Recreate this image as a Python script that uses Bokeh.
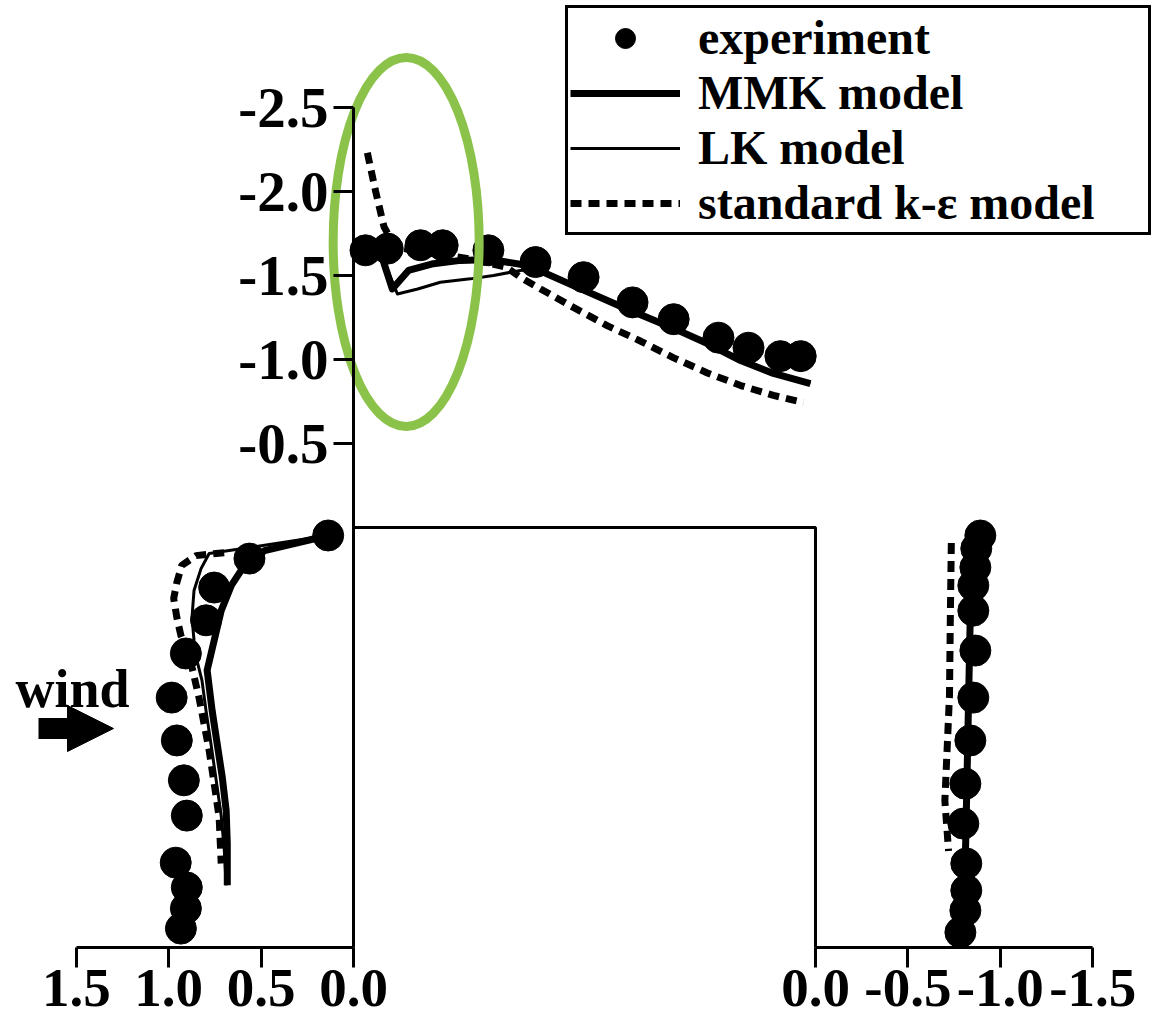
from bokeh.plotting import figure
from bokeh.models import (Range1d, LinearAxis, FixedTicker, NumeralTickFormatter,
                          Legend, LegendItem, Label, Arrow, NormalHead)
from bokeh.embed import file_html
from bokeh.resources import INLINE

# ---------------- data: pressure coefficient Cp around a cube ----------------
# Roof: s = position along roof (0 = windward edge, 1 = leeward edge)
roof_exp_s  = [0.026, 0.074, 0.145, 0.193, 0.292, 0.394, 0.498, 0.604, 0.693, 0.790, 0.855, 0.924, 0.968]
roof_exp_cp = [-1.65, -1.66, -1.68, -1.68, -1.65, -1.58, -1.49, -1.34, -1.24, -1.13, -1.07, -1.02, -1.02]

roof_mmk_s  = [0.0, 0.058, 0.084, 0.119, 0.173, 0.232, 0.297, 0.377, 0.476, 0.584, 0.693, 0.766, 0.838, 0.909, 0.989]
roof_mmk_cp = [-1.65, -1.64, -1.42, -1.53, -1.57, -1.59, -1.595, -1.56, -1.44, -1.31, -1.185, -1.095, -0.994, -0.917, -0.857]

roof_lk_s  = [0.0, 0.058, 0.095, 0.139, 0.188, 0.253, 0.303, 0.361, 0.40, 0.476, 0.584, 0.693, 0.766, 0.838, 0.909, 0.989]
roof_lk_cp = [-1.65, -1.64, -1.39, -1.42, -1.46, -1.48, -1.50, -1.53, -1.54, -1.44, -1.31, -1.185, -1.095, -0.994, -0.917, -0.857]

roof_ke_s  = [0.030, 0.048, 0.066, 0.09, 0.15, 0.25, 0.33, 0.361, 0.405, 0.476, 0.550, 0.621, 0.693, 0.766, 0.838, 0.909, 0.974]
roof_ke_cp = [-2.23, -2.00, -1.79, -1.67, -1.64, -1.60, -1.55, -1.49, -1.42, -1.31, -1.20, -1.11, -1.01, -0.92, -0.845, -0.786, -0.744]

# Windward face: h = height (0 = ground, 1 = roof)
wind_exp_h  = [0.981, 0.926, 0.857, 0.779, 0.700, 0.595, 0.493, 0.398, 0.314, 0.202, 0.143, 0.093, 0.045]
wind_exp_cp = [0.137, 0.563, 0.754, 0.798, 0.907, 0.984, 0.956, 0.918, 0.902, 0.962, 0.902, 0.907, 0.934]

wind_mmk_h  = [0.981, 0.945, 0.910, 0.862, 0.802, 0.731, 0.660, 0.564, 0.486, 0.405, 0.326, 0.248, 0.148]
wind_mmk_cp = [0.137, 0.481, 0.590, 0.661, 0.716, 0.754, 0.792, 0.765, 0.738, 0.710, 0.689, 0.683, 0.683]

wind_lk_h  = [0.981, 0.955, 0.938, 0.902, 0.850, 0.786, 0.731, 0.683, 0.636, 0.564, 0.481, 0.398, 0.314, 0.231, 0.148]
wind_lk_cp = [0.137, 0.525, 0.781, 0.825, 0.863, 0.874, 0.863, 0.847, 0.820, 0.798, 0.770, 0.743, 0.716, 0.699, 0.689]

wind_ke_h  = [0.940, 0.933, 0.910, 0.869, 0.831, 0.786, 0.743, 0.724, 0.667, 0.595, 0.533, 0.469, 0.390, 0.310, 0.200]
wind_ke_cp = [0.700, 0.852, 0.929, 0.956, 0.973, 0.956, 0.934, 0.918, 0.874, 0.836, 0.809, 0.781, 0.754, 0.727, 0.716]

# Leeward face
lee_exp_h  = [0.981, 0.950, 0.905, 0.862, 0.802, 0.707, 0.595, 0.493, 0.390, 0.295, 0.200, 0.136, 0.088, 0.036]
lee_exp_cp = [-0.892, -0.870, -0.865, -0.854, -0.854, -0.865, -0.854, -0.838, -0.811, -0.800, -0.816, -0.816, -0.811, -0.784]

lee_mmk_h  = [0.975, 0.80, 0.56, 0.32, 0.09]
lee_mmk_cp = [-0.845, -0.838, -0.827, -0.816, -0.805]

lee_lk_h  = [0.975, 0.80, 0.56, 0.32, 0.09]
lee_lk_cp = [-0.84, -0.835, -0.825, -0.815, -0.805]

lee_ke_h  = [0.963, 0.80, 0.60, 0.45, 0.35, 0.23]
lee_ke_cp = [-0.735, -0.730, -0.725, -0.710, -0.700, -0.720]

# tick values
roof_ticks = [-2.5, -2.0, -1.5, -1.0, -0.5]
wind_ticks = [1.5, 1.0, 0.5, 0.0]
lee_ticks = [0.0, -0.5, -1.0, -1.5]

# building outline (geometry units)
bld_x = [0, 0, 1, 1]
bld_y = [0, 1, 1, 0]

# ---------------- geometry mapping ----------------
K = 0.4  # building lengths per unit of Cp

def roof_xy(s, cp):
    return list(s), [1 - K * c for c in cp]

def wind_xy(h, cp):
    return [-K * c for c in cp], list(h)

def lee_xy(h, cp):
    return [1 - K * c for c in cp], list(h)

W, H = 1156, 1019
PXU, PYU = 462.0, 420.0       # pixels per building unit
OX, OY = 353.0, 947.0         # page position of windward ground corner
x0 = (0 - OX) / PXU
x1 = x0 + W / PXU
y1 = (OY - 0) / PYU
y0 = y1 - H / PYU

p = figure(width=W, height=H, x_range=Range1d(x0, x1), y_range=Range1d(y0, y1),
           output_backend="svg", toolbar_location=None, min_border=0,
           x_axis_location=None, y_axis_location=None, outline_line_color=None)
p.grid.visible = False

p.extra_x_ranges = {
    "cpw": Range1d(start=-x0 / K, end=-x1 / K),
    "cpl": Range1d(start=(1 - x0) / K, end=(1 - x1) / K),
}
p.extra_y_ranges = {"cpr": Range1d(start=(1 - y0) / K, end=(1 - y1) / K)}

FONT = "Liberation Serif"

def style_axis(ax, size="52px", standoff=2):
    ax.axis_line_width = 3
    ax.axis_line_color = "black"
    ax.major_tick_line_width = 3
    ax.major_tick_line_color = "black"
    ax.major_tick_in = 0
    ax.major_tick_out = 20
    ax.minor_tick_line_color = None
    ax.major_label_text_font = FONT
    ax.major_label_text_font_style = "bold"
    ax.major_label_text_font_size = size
    ax.major_label_text_color = "black"
    ax.major_label_standoff = standoff
    ax.formatter = NumeralTickFormatter(format="0.0")

ax_r = LinearAxis(y_range_name="cpr", fixed_location=0, bounds=(-2.5, 0),
                  ticker=FixedTicker(ticks=roof_ticks))
style_axis(ax_r, "57px", 5)
p.add_layout(ax_r, "left")

ax_w = LinearAxis(x_range_name="cpw", fixed_location=0, bounds=(0, 1.5),
                  ticker=FixedTicker(ticks=wind_ticks))
style_axis(ax_w, "55px", 2)
p.add_layout(ax_w, "below")

ax_l = LinearAxis(x_range_name="cpl", fixed_location=0, bounds=(-1.5, 0),
                  ticker=FixedTicker(ticks=lee_ticks))
style_axis(ax_l, "55px", 2)
p.add_layout(ax_l, "below")

# building
p.line(bld_x, bld_y, line_color="black", line_width=3)

DASH = "11 7"
MMK_W, LK_W, KE_W = 7, 3, 7

def draw_face(xy_fn, exp, mmk, lk, ke):
    rs = {}
    x, y = xy_fn(*ke)
    rs["ke"] = p.line(x, y, line_color="black", line_width=KE_W, line_dash=DASH, line_cap="butt")
    x, y = xy_fn(*lk)
    rs["lk"] = p.line(x, y, line_color="black", line_width=LK_W, line_join="round")
    x, y = xy_fn(*mmk)
    rs["mmk"] = p.line(x, y, line_color="black", line_width=MMK_W, line_join="round")
    x, y = xy_fn(*exp)
    rs["exp"] = p.scatter(x, y, marker="circle", size=31, fill_color="black", line_color="black")
    return rs

r_roof = draw_face(roof_xy, (roof_exp_s, roof_exp_cp), (roof_mmk_s, roof_mmk_cp),
                   (roof_lk_s, roof_lk_cp), (roof_ke_s, roof_ke_cp))
r_wind = draw_face(wind_xy, (wind_exp_h, wind_exp_cp), (wind_mmk_h, wind_mmk_cp),
                   (wind_lk_h, wind_lk_cp), (wind_ke_h, wind_ke_cp))
r_lee = draw_face(lee_xy, (lee_exp_h, lee_exp_cp), (lee_mmk_h, lee_mmk_cp),
                  (lee_lk_h, lee_lk_cp), (lee_ke_h, lee_ke_cp))

# wind label and arrow
p.add_layout(Label(x=(15 - OX) / PXU, y=(OY - 688) / PYU, text="wind",
                   text_font=FONT, text_font_style="bold", text_font_size="54px",
                   text_baseline="alphabetic", text_align="left", text_color="black"))
p.add_layout(Arrow(x_start=(38 - OX) / PXU, y_start=(OY - 728) / PYU,
                   x_end=(113 - OX) / PXU, y_end=(OY - 728) / PYU,
                   line_width=21, line_color="black", start=None,
                   end=NormalHead(size=46, fill_color="black", line_color="black", line_width=1)))

# highlight ellipse (roof leading-edge region)
ell_s, ell_cp = 0.114, -1.70
p.ellipse(x=[ell_s], y=[1 - K * ell_cp], width=146 / PXU, height=369 / PYU,
          fill_color=None, line_color="#8BC34A", line_width=9)

legend = Legend(items=[
    LegendItem(label="experiment", renderers=[r_roof["exp"]]),
    LegendItem(label="MMK model", renderers=[r_roof["mmk"]]),
    LegendItem(label="LK model", renderers=[r_roof["lk"]]),
    LegendItem(label="standard k-\u03b5 model", renderers=[r_roof["ke"]]),
], location="top_right")
legend.margin = 5
legend.padding = 2
legend.spacing = 0
legend.glyph_width = 110
legend.glyph_height = 50
legend.label_height = 50
legend.label_width = 448
legend.label_standoff = 18
legend.label_text_font = FONT
legend.label_text_font_style = "bold"
legend.label_text_font_size = "48px"
legend.label_text_color = "black"
legend.border_line_color = "black"
legend.border_line_alpha = 1.0
legend.border_line_width = 3
legend.background_fill_color = "white"
legend.background_fill_alpha = 1.0
p.add_layout(legend, "center")

open("out.html", "w").write(file_html(p, INLINE))
